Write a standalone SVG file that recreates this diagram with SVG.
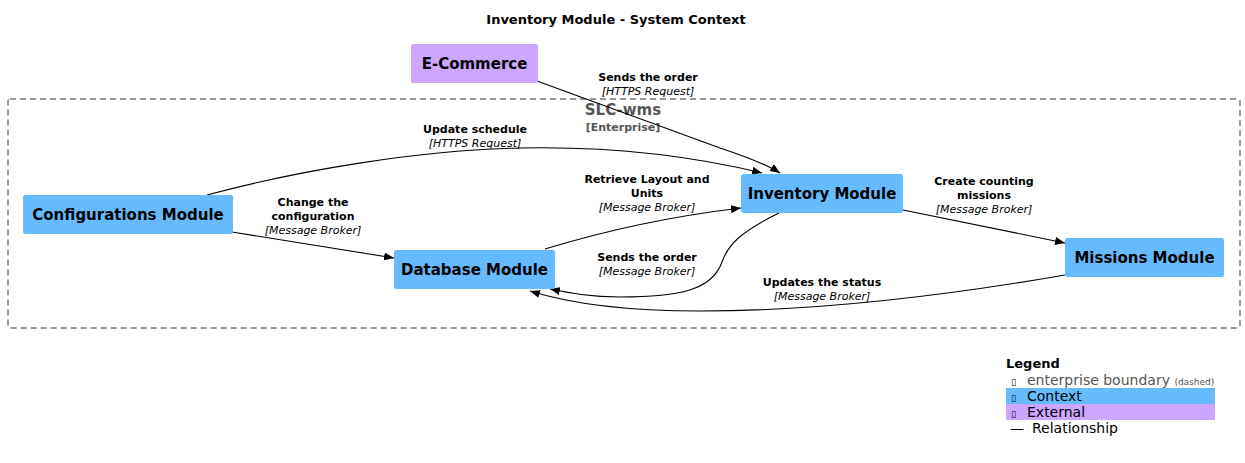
<svg xmlns="http://www.w3.org/2000/svg" width="1245" height="463" viewBox="0 0 1245 463">
<style>
text{font-family:"DejaVu Sans",Verdana,sans-serif}
.title{font-size:13px;font-weight:bold;fill:#000}
.node{font-size:15px;font-weight:bold;fill:#000;text-anchor:middle}
.ctx{fill:#66bbff}
.ext{fill:#cca6ff}
.lb{font-size:11px;font-weight:bold;fill:#000;text-anchor:middle}
.li{font-size:11px;font-style:italic;fill:#000;text-anchor:middle}
.edge{fill:none;stroke:#000;stroke-width:1.1;marker-end:url(#arr)}
.bnd{fill:none;stroke:#333;stroke-width:1;stroke-dasharray:6,4}
.lg{font-size:14px;fill:#000}
</style>
<defs>
<marker id="arr" viewBox="0 0 10 8" refX="10" refY="4" markerWidth="10" markerHeight="8" markerUnits="userSpaceOnUse" orient="auto">
<path d="M0,0 L10,4 L0,8 z" fill="#000"/>
</marker>
</defs>
<rect width="1245" height="463" fill="#fff"/>
<text class="title" x="616" y="24" text-anchor="middle">Inventory Module - System Context</text>

<g id="boundary">
<rect class="bnd" x="8" y="99" width="1232" height="229" rx="2"/>
<text x="623" y="115" text-anchor="middle" font-size="15" font-weight="bold" fill="#555">SLC-wms</text>
<text x="623" y="131" text-anchor="middle" font-size="11" font-weight="bold" fill="#555">[Enterprise]</text>
</g>

<g id="connectors">
<path class="edge" d="M537,81 L720,148 Q765,163 780,173"/>
<path class="edge" d="M207,195 C300,170 420,150 520,148 C620,146 700,158 762,173"/>
<path class="edge" d="M232,232 L394,258"/>
<path class="edge" d="M545,249 Q640,220 741,208"/>
<path class="edge" d="M779,213 C740,232 728,245 722,262 C712,290 680,297 620,297 C590,297 570,293 550,289"/>
<path class="edge" d="M903,210 L1065,243"/>
<path class="edge" d="M1065,275 C950,295 820,311 700,311 C620,311 565,302 530,291"/>
<text class="lb" x="648" y="81">Sends the order</text>
<text class="li" x="648" y="95">[HTTPS Request]</text>
<text class="lb" x="475" y="133">Update schedule</text>
<text class="li" x="475" y="147">[HTTPS Request]</text>
<text class="lb" x="313" y="206">Change the</text>
<text class="lb" x="313" y="220">configuration</text>
<text class="li" x="313" y="234">[Message Broker]</text>
<text class="lb" x="647" y="183">Retrieve Layout and</text>
<text class="lb" x="647" y="197">Units</text>
<text class="li" x="647" y="211">[Message Broker]</text>
<text class="lb" x="647" y="261">Sends the order</text>
<text class="li" x="647" y="275">[Message Broker]</text>
<text class="lb" x="984" y="185">Create counting</text>
<text class="lb" x="984" y="199">missions</text>
<text class="li" x="984" y="213">[Message Broker]</text>
<text class="lb" x="822" y="286">Updates the status</text>
<text class="li" x="822" y="300">[Message Broker]</text>
</g>

<g id="ecommerce">
<rect class="ext" x="411" y="44" width="127" height="39" rx="2.5"/>
<text class="node" x="474.5" y="69">E-Commerce</text>
</g>
<g id="configurations">
<rect class="ctx" x="23" y="195" width="210" height="39" rx="2.5"/>
<text class="node" x="128" y="220">Configurations Module</text>
</g>
<g id="database">
<rect class="ctx" x="394" y="250" width="161" height="39" rx="2.5"/>
<text class="node" x="474.5" y="275">Database Module</text>
</g>
<g id="inventory">
<rect class="ctx" x="741" y="174" width="162" height="39" rx="2.5"/>
<text class="node" x="822" y="199">Inventory Module</text>
</g>
<g id="missions">
<rect class="ctx" x="1065" y="238" width="159" height="39" rx="2.5"/>
<text class="node" x="1144.5" y="263">Missions Module</text>
</g>

<g id="legend">
<text x="1006" y="368" font-size="13" font-weight="bold">Legend</text>
<text x="1011" y="385" font-size="9" fill="#000">▯</text>
<text class="lg" x="1027" y="385" style="fill:#555">enterprise boundary <tspan font-size="9">(dashed)</tspan></text>
<rect class="ctx" x="1006" y="388" width="209" height="16"/>
<text x="1011" y="401" font-size="9">▯</text>
<text class="lg" x="1027" y="401">Context</text>
<rect class="ext" x="1006" y="404" width="209" height="16"/>
<text x="1011" y="417" font-size="9">▯</text>
<text class="lg" x="1027" y="417">External</text>
<text class="lg" x="1010" y="433">—</text>
<text class="lg" x="1032" y="433">Relationship</text>
</g>
</svg>
